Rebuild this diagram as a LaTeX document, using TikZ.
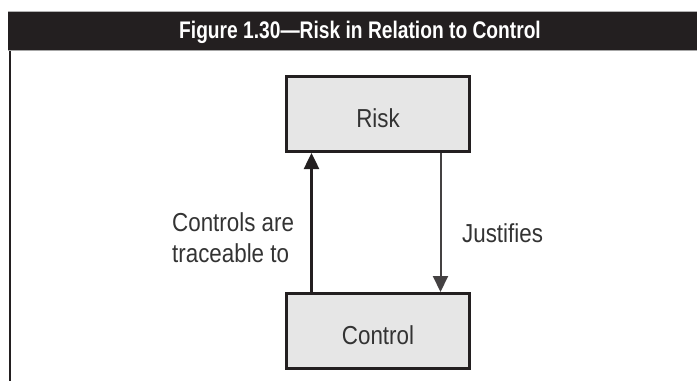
\documentclass[tikz,border=0pt]{standalone}
\usepackage{fontspec}
\setmainfont[FakeStretch=0.86]{Liberation Sans}
\newfontfamily\titlefont[FakeStretch=0.8]{Liberation Sans}
\usetikzlibrary{arrows.meta}
\definecolor{ink}{HTML}{231F20}
\definecolor{boxfill}{HTML}{E6E6E6}
\definecolor{txt}{HTML}{333333}
\tikzset{
  conceptbox/.style={draw=ink, line width=3pt, fill=boxfill, minimum width=183pt,
    minimum height=75pt, inner sep=0pt, text height=26pt, text depth=0pt,
    text=txt, font=\fontsize{26}{31}\selectfont},
  label text/.style={inner sep=0pt, text=txt, font=\fontsize{26}{31}\selectfont},
  link/.style={-{Triangle[width=15pt,length=16pt]}},
}
\begin{document}
\begin{tikzpicture}[x=1pt, y=-1pt]
  \useasboundingbox (0,0) rectangle (697,381);
  % title bar and frame
  \fill[ink] (8,11) rectangle (697,51);
  \draw[gray!60, line width=1.2pt] (8,11.6) -- (697,11.6);
  \draw[gray!70, line width=1.4pt] (8,50.5) -- (697,50.5);
  \draw[ink, line width=2pt] (9.5,51) -- (9.5,381);
  \node[anchor=base, inner sep=0pt, text=white,
        font=\titlefont\bfseries\fontsize{24}{28}\selectfont] (title) at (360,38)
        {Figure 1.30—Risk in Relation to Control};
  % boxes
  \node[conceptbox] (risk) at (378,114) {Risk};
  \node[conceptbox] (control) at (378,331) {Control};
  % connectors
  \draw[link, ink, line width=2.5pt] ([xshift=26.5pt]control.north west) -- ([xshift=26.5pt]risk.south west);
  \draw[link, ink!85, line width=2pt] ([xshift=-30.5pt]risk.south east) -- ([xshift=-30.5pt]control.north east);
  % labels
  \node[label text, anchor=north west, align=left] (traceable) at (172,212.5) {Controls are\\traceable to};
  \node[label text, anchor=base west] (justifies) at (462,242) {Justifies};
\end{tikzpicture}
\end{document}
